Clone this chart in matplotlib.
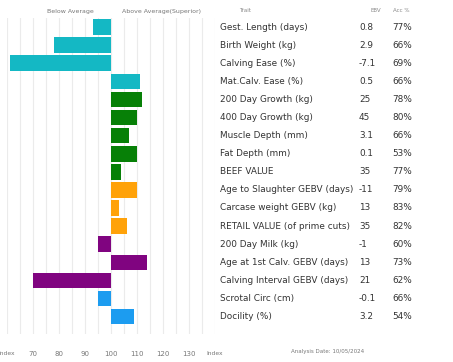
import matplotlib
matplotlib.use("Agg")
import matplotlib.pyplot as plt
import numpy as np

W, H = 453, 362

# --- data ---
traits = [
    "Gest. Length (days)", "Birth Weight (kg)", "Calving Ease (%)",
    "Mat.Calv. Ease (%)", "200 Day Growth (kg)", "400 Day Growth (kg)",
    "Muscle Depth (mm)", "Fat Depth (mm)", "BEEF VALUE",
    "Age to Slaughter GEBV (days)", "Carcase weight GEBV (kg)",
    "RETAIL VALUE (of prime cuts)", "200 Day Milk (kg)",
    "Age at 1st Calv. GEBV (days)", "Calving Interval GEBV (days)",
    "Scrotal Circ (cm)", "Docility (%)",
]
ebv = ["0.8", "2.9", "-7.1", "0.5", "25", "45", "3.1", "0.1", "35", "-11",
       "13", "35", "-1", "13", "21", "-0.1", "3.2"]
acc = ["77%", "66%", "69%", "66%", "78%", "80%", "66%", "53%", "77%", "79%",
       "83%", "82%", "60%", "73%", "62%", "66%", "54%"]
index = [93, 78, 61, 111, 112, 110, 107, 110, 104, 110, 103, 106, 95, 114,
         70, 95, 109]
group = ["calving"] * 4 + ["growth"] * 5 + ["carcase"] * 3 + ["maternal"] * 3 + ["other"] * 2

tick_values = [60, 70, 80, 90, 100, 110, 120, 130, 140]
tick_labels = ["Index", "70", "80", "90", "100", "110", "120", "130", "Index"]

COLORS = {
    "calving": "#14b8c4",
    "growth": "#078007",
    "carcase": "#ffa20a",
    "maternal": "#800480",
    "other": "#1c9cf0",
}


def fx(px):
    return px / W


def fy(py):
    return 1 - py / H


fig = plt.figure(figsize=(W / 100, H / 100), dpi=100)
fig.patch.set_facecolor("white")

# bar panel: pixel box x 7..215, y 18..334
left, right, top, bottom = 7, 215, 18, 334
ax = fig.add_axes([fx(left), fy(bottom), fx(right - left), (bottom - top) / H])

rows = np.arange(len(traits))
deltas = np.array(index) - 100
ax.barh(rows, deltas, left=100, height=0.86,
        color=[COLORS[g] for g in group], zorder=3)

ax.set_xlim(60, 140)
ax.set_ylim(16.96, -0.5)
ax.set_xticks(np.arange(60, 141, 5), minor=True)
ax.set_xticks(tick_values)
ax.set_xticklabels(tick_labels)
ax.tick_params(axis="x", which="both", length=0, pad=12, labelsize=5,
               labelcolor="#777777")
labels = ax.get_xticklabels()
labels[0].set_fontsize(4.3)
labels[0].set_x(60.6)
labels[-1].set_fontsize(4.3)
ax.set_yticks([])
ax.grid(True, axis="x", which="both", color="#ebebeb", linewidth=0.8, zorder=0)
for s in ax.spines.values():
    s.set_visible(False)

# headers
fig.text(fx(70), fy(11), "Below Average", fontsize=4.5, color="#777777",
         ha="center", va="center")
fig.text(fx(162), fy(11), "Above Average(Superior)", fontsize=4.5,
         color="#777777", ha="center", va="center")
fig.text(fx(245), fy(10), "Trait", fontsize=4, color="#888888",
         ha="center", va="center")
fig.text(fx(376), fy(10), "EBV", fontsize=4, color="#888888",
         ha="center", va="center")
fig.text(fx(401), fy(10), "Acc %", fontsize=4, color="#888888",
         ha="center", va="center")

# table rows
for i, (t, e, a) in enumerate(zip(traits, ebv, acc)):
    y = 27 + 18.1 * i
    fig.text(fx(220), fy(y), t, fontsize=6.4, color="#333333",
             ha="left", va="center")
    fig.text(fx(359), fy(y), e, fontsize=6.4, color="#333333",
             ha="left", va="center")
    fig.text(fx(392), fy(y), a, fontsize=6.4, color="#333333",
             ha="left", va="center")

fig.text(fx(328), fy(351), "Analysis Date: 10/05/2024", fontsize=4,
         color="#777777", ha="center", va="center")

fig.savefig("out.png", dpi=100)
